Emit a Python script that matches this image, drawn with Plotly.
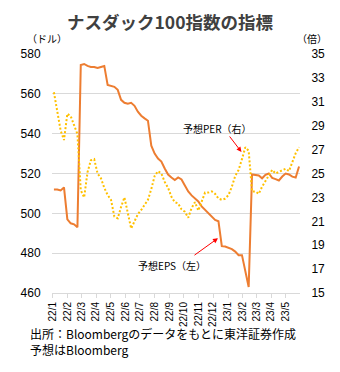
import plotly.graph_objects as go
import pandas as pd

# Weekly observations (Mondays) from 2022-01-03
week_start = "2022-01-03"
n_weeks = 74

# 予想EPS (USD, left axis)
eps = [512, 512, 511.5, 513, 497, 495, 494.5, 493, 574.5, 575,
       574, 573.5, 573.5, 573, 573.5, 574, 564.5, 564, 563.5, 562,
       557, 555.5, 555, 555.5, 554, 551, 549, 547.7, 546.5, 534,
       530, 527.5, 526, 522.5, 519.5, 518, 516.7, 518, 517, 514,
       511, 509, 507.5, 506, 503.5, 501.7, 500, 498.5, 496.7, 496,
       483.5, 483.3, 482.8, 482, 480.8, 479, 479, 471, 463, 519.5,
       519.3, 519, 517.6, 519.3, 520, 517.8, 517.2, 516.5, 518.5, 520,
       519.5, 518.4, 518, 523.5]

# 予想PER (times, right axis)
per = [31.8, 30.3, 28.6, 27.8, 30.0, 29.8, 29.0, 28.3, 23.6, 23.0,
       25.1, 26.1, 26.2, 25.0, 24.6, 23.8, 23.2, 22.8, 21.4, 21.25,
       22.2, 23.0, 21.7, 20.4, 21.0, 21.6, 21.95, 22.4, 22.8, 23.7,
       24.8, 25.2, 25.0, 24.3, 23.8, 23.05, 22.6, 22.5, 22.0, 21.8,
       21.3, 22.1, 22.6, 21.9, 22.6, 23.4, 23.4, 23.5, 23.3, 22.9,
       22.8, 22.9, 23.2, 23.9, 24.8, 25.3, 26.2, 27.2, 26.9, 23.5,
       23.5, 23.3, 23.9, 24.4, 24.8, 25.3, 25.0, 25.15, 25.3, 25.4,
       25.2, 25.9, 26.7, 27.2]

tick_dates = ["2022-01-01", "2022-02-01", "2022-03-01", "2022-04-01", "2022-05-01",
              "2022-06-01", "2022-07-01", "2022-08-01", "2022-09-01", "2022-10-01",
              "2022-11-01", "2022-12-01", "2023-01-01", "2023-02-01", "2023-03-01",
              "2023-04-01", "2023-05-01"]
tick_labels = ["22/1", "22/2", "22/3", "22/4", "22/5", "22/6", "22/7", "22/8", "22/9",
               "22/10", "22/11", "22/12", "23/1", "23/2", "23/3", "23/4", "23/5"]

dates = pd.date_range(week_start, periods=n_weeks, freq="7D")

FONT = "Liberation Sans, Arial, Noto Sans CJK JP"
JP = "Noto Sans CJK JP"

fig = go.Figure()
fig.add_trace(go.Scatter(x=dates, y=eps, mode="lines", name="予想EPS（左）",
                         line=dict(color="#ED7D31", width=2), yaxis="y"))
fig.add_trace(go.Scatter(x=dates, y=per, mode="lines", name="予想PER（右）",
                         line=dict(color="#FFC000", width=2, dash="2px,2px"), yaxis="y2"))

fig.update_layout(
    width=340, height=372,
    margin=dict(l=52, r=40, t=54, b=79),
    paper_bgcolor="white", plot_bgcolor="white",
    showlegend=False,
    font=dict(family=FONT, size=12, color="#000000"),
    title=dict(text="<b>ナスダック100指数の指標</b>", x=0.5, xanchor="center",
               y=1 - 23 / 372, yanchor="middle",
               font=dict(family=JP, size=17.5, color="#404040")),
    xaxis=dict(type="date", range=["2021-12-30", "2023-05-31"],
               tickmode="array", tickvals=tick_dates, ticktext=tick_labels,
               tickangle=-90, tickfont=dict(size=10, family=FONT),
               showgrid=False, zeroline=False,
               showline=True, linecolor="#D9D9D9", linewidth=1,
               ticks="outside", ticklen=4, tickcolor="#D9D9D9"),
    yaxis=dict(range=[460, 580], tick0=460, dtick=20,
               showgrid=True, gridcolor="#D9D9D9", gridwidth=1, zeroline=False,
               showline=False, ticks="outside", ticklen=8, tickcolor="rgba(0,0,0,0)",
               tickfont=dict(size=12)),
    yaxis2=dict(range=[15, 35], tick0=15, dtick=2, overlaying="y", side="right",
                showgrid=False, zeroline=False, showline=False,
                ticks="outside", ticklen=8, tickcolor="rgba(0,0,0,0)",
                tickfont=dict(size=12)),
)

ann = []
ann.append(dict(text="（ドル）", xref="paper", yref="paper", x=-0.021, y=1.063,
                xanchor="center", yanchor="middle",
                showarrow=False, font=dict(family=JP, size=10, color="#000")))
ann.append(dict(text="（倍）", xref="paper", yref="paper", x=1.05, y=1.063,
                xanchor="center", yanchor="middle",
                showarrow=False, font=dict(family=JP, size=10, color="#000")))
ann.append(dict(text="出所：Bloombergのデータをもとに東洋証券作成<br>予想はBloomberg",
                xref="paper", yref="paper", align="left",
                x=-0.097, y=-0.203, xanchor="left", yanchor="middle",
                showarrow=False, font=dict(family=JP, size=12, color="#000")))
# label texts
ann.append(dict(text="予想PER（右）", xref="paper", yref="paper", x=0.669, y=0.690,
                xanchor="center", yanchor="middle",
                showarrow=False, font=dict(family=JP, size=10, color="#000")))
ann.append(dict(text="予想EPS（左）", xref="paper", yref="paper", x=0.484, y=0.113,
                xanchor="center", yanchor="middle",
                showarrow=False, font=dict(family=JP, size=10, color="#000")))
# arrows
ann.append(dict(text="", x="2023-01-29", y=26.8, xref="x", yref="y2",
                showarrow=True, ax=-13, ay=-17, axref="pixel", ayref="pixel",
                arrowhead=2, arrowsize=1, arrowwidth=1, arrowcolor="#FF0000"))
ann.append(dict(text="", x="2022-12-11", y=487.5, xref="x", yref="y",
                showarrow=True, ax=-25, ay=18, axref="pixel", ayref="pixel",
                arrowhead=2, arrowsize=1, arrowwidth=1, arrowcolor="#FF0000"))
fig.update_layout(annotations=ann)

fig.write_html("out.html")
